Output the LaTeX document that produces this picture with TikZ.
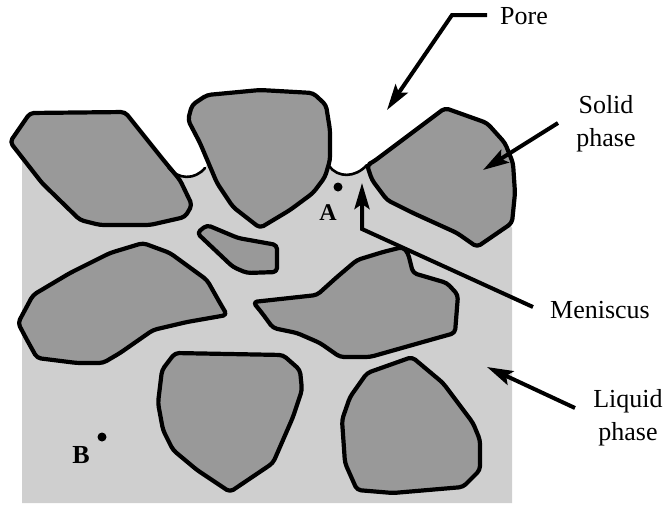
\documentclass[tikz,border=0pt]{standalone}
\usepackage{fontspec}
\setmainfont{Liberation Serif}
\usetikzlibrary{arrows.meta}
\begin{document}
\begin{tikzpicture}[x=1pt,y=-1pt,
  grain/.style={fill=black!40,draw=black,line width=4.2pt,line join=round,rounded corners=4pt},
  liquid/.style={fill=black!19},
  meniscus/.style={draw=black,line width=2.6pt,line cap=round},
  pointer/.style={draw=black,line width=4pt,-{Stealth[length=26pt,width=15pt,inset=5pt]}},
  label/.style={font=\fontsize{26}{33}\selectfont,align=center,inner sep=0pt},
  pointlabel/.style={font=\bfseries\fontsize{24}{24}\selectfont,inner sep=0pt},
  spot/.style={fill=black,circle,inner sep=0pt,minimum size=9pt}]
\useasboundingbox (0,0) rectangle (668,514);

% liquid-filled region below the menisci
\fill[liquid] (22,503) -- (512,503) -- (512,228) -- (495,200) -- (390,185)
  -- (367,165) .. controls (355,178) and (338,178) .. (329,166)
  -- (300,150) -- (215,150)
  -- (205,168) .. controls (195,180) and (178,180) .. (168,167)
  -- (120,150) -- (22,155) -- cycle;

% solid grains
\draw[grain] (10,142) -- (30,113) -- (125,112) -- (165,162) -- (180,180)
  -- (192,205) -- (185,217) -- (150,225) -- (100,225) -- (80,220) -- (42,183) -- cycle;
\draw[grain] (188,120) -- (192,105) -- (207,95) -- (260,90) -- (313,93) -- (326,105)
  -- (330,130) -- (330,160) -- (325,177) -- (313,193) -- (290,210) -- (260,228)
  -- (233,207) -- (217,183) -- (200,143) -- cycle;
\draw[grain] (367,165) -- (373,162) -- (445,108) -- (487,123) -- (505,143) -- (513,163)
  -- (515,193) -- (512,223) -- (477,247) -- (457,233) -- (413,213) -- (387,200)
  -- (372,180) -- cycle;
\draw[grain] (197,233) -- (207,225) -- (238,238) -- (277,245) -- (277,272)
  -- (247,273) -- (233,267) -- cycle;
\draw[grain] (18,323) -- (33,295) -- (70,273) -- (110,253) -- (143,243) -- (170,253)
  -- (207,280) -- (220,303) -- (227,315) -- (187,322) -- (153,330) -- (120,353)
  -- (103,363) -- (77,363) -- (37,358) -- (27,340) -- cycle;
\draw[grain] (253,302) -- (317,295) -- (337,277) -- (357,260) -- (383,252) -- (403,247)
  -- (408,253) -- (413,273) -- (447,283) -- (458,295) -- (455,333) -- (430,340)
  -- (370,357) -- (340,357) -- (320,343) -- (297,333) -- (273,328) -- (262,313) -- cycle;
\draw[grain] (175,353) -- (283,355) -- (300,370) -- (302,390) -- (293,417) -- (273,463)
  -- (230,492) -- (197,470) -- (173,450) -- (163,430) -- (158,403) -- (162,370) -- cycle;
\draw[grain] (412,357) -- (367,373) -- (350,397) -- (342,420) -- (345,463) -- (357,490)
  -- (393,493) -- (463,487) -- (480,470) -- (480,440) -- (473,423) -- (443,383) -- cycle;

% menisci between neighbouring grains
\draw[meniscus] (168,167) .. controls (178,180) and (195,180) .. (205,168);
\draw[meniscus] (329,166) .. controls (338,178) and (355,178) .. (367,165);

% reference points
\node[spot] (dotA) at (338,187) {};
\node[pointlabel] (labA) at (328,213) {A};
\node[spot] (dotB) at (102,437) {};
\node[pointlabel,font=\bfseries\fontsize{26}{26}\selectfont] (labB) at (81,455) {B};

% callout labels
\node[label,anchor=west] (pore) at (500,16) {Pore};
\node[label] (solid) at (606,124) {Solid\\phase};
\node[label] (menisc) at (600,310) {Meniscus};
\node[label] (liquidlab) at (628,418) {Liquid\\phase};

% callout pointers
\coordinate (poreS) at (487,15);
\coordinate (poreK) at (452,15);
\coordinate (poreT) at (387,110);
\draw[pointer] (poreS) -- (poreK) -- (poreT);

\coordinate (solidS) at (558,123);
\coordinate (solidT) at (483,170);
\draw[pointer] (solidS) -- (solidT);

\coordinate (menS) at (533,307);
\coordinate (menK) at (362,229);
\coordinate (menT) at (362,183);
\draw[pointer,line join=miter] (menS) -- (menK) -- (menT);

\coordinate (liqS) at (575,408);
\coordinate (liqT) at (487,367);
\draw[pointer] (liqS) -- (liqT);
\end{tikzpicture}
\end{document}
